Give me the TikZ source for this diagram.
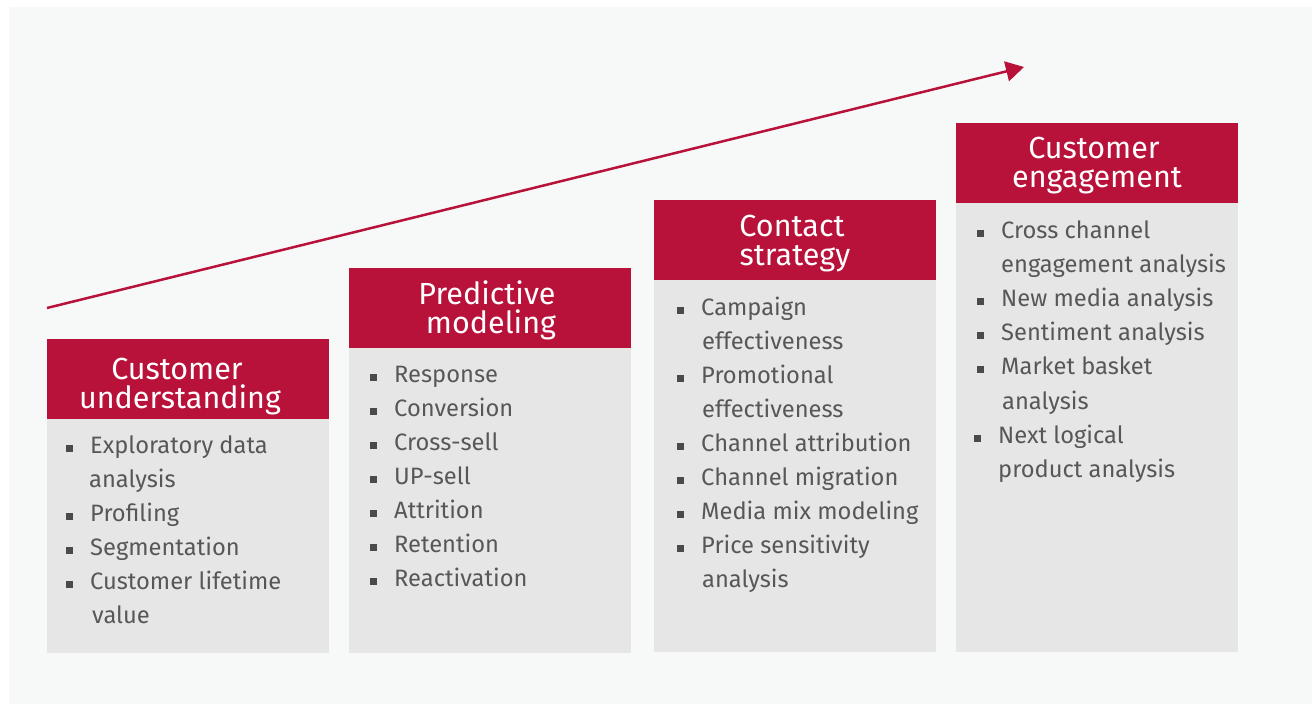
\documentclass[tikz,border=0pt]{standalone}
\usepackage{fontspec}
\setmainfont{Fira Sans}
\usetikzlibrary{arrows.meta}
\definecolor{brandred}{HTML}{B8123A}
\definecolor{bodygray}{HTML}{E5E6E5}
\definecolor{pagegray}{HTML}{F7F8F8}
\definecolor{textgray}{HTML}{575757}
\definecolor{bulletgray}{HTML}{4A4A4A}
\newcommand{\bulletmark}{\llap{\textcolor{bulletgray}{\rule[1pt]{7pt}{7pt}}\hspace{17pt}}}
\tikzset{
  header/.style={fill=brandred, minimum width=282pt, minimum height=80pt, inner sep=0pt,
    anchor=north west},
  title/.style={anchor=base, inner sep=0pt, text=white, font=\fontsize{30.5}{30}\selectfont},
  panel/.style={fill=bodygray, minimum width=282pt, inner sep=0pt, anchor=north west},
  item/.style={anchor=base west, inner sep=0pt, text=textgray, font=\fontsize{23.7}{26}\selectfont},
  trend/.style={draw=brandred, line width=2.5pt, -{Triangle[length=18pt,width=20pt]}},
}
\begin{document}
\begin{tikzpicture}[x=1pt, y=-1pt]
  \useasboundingbox (0,0) rectangle (1312,704);
  \fill[white] (0,0) rectangle (1312,704);
  \fill[pagegray] (9,7) rectangle (1312,704);

  % rising trend arrow
  \coordinate (trendStart) at (47,308);
  \coordinate (trendEnd) at (1024,67);
  \draw[trend] (trendStart) -- (trendEnd);

  % step 1
  \node[panel, minimum height=234pt] (p1) at (47,419) {};
  \node[header] (h1) at (47,339) {};
  \node[title] (t1a) at (177,379) {Customer};
  \node[title] (t1b) at (180,408) {understanding};
  \node[item] (a1) at (90,453) {\bulletmark Exploratory data};
  \node[item] (a1b) at (89,487) {analysis};
  \node[item] (a2) at (90,521) {\bulletmark Profiling};
  \node[item] (a3) at (90,555) {\bulletmark Segmentation};
  \node[item] (a4) at (90,589) {\bulletmark Customer lifetime};
  \node[item] (a4b) at (92,623) {value};

  % step 2
  \node[panel, minimum height=305pt] (p2) at (349,348) {};
  \node[header] (h2) at (349,268) {};
  \node[title] (t2a) at (487,304) {Predictive};
  \node[title] (t2b) at (491,333) {modeling};
  \node[item] (b1) at (394,382) {\bulletmark Response};
  \node[item] (b2) at (394,416) {\bulletmark Conversion};
  \node[item] (b3) at (394,450) {\bulletmark Cross-sell};
  \node[item] (b4) at (394,484) {\bulletmark UP-sell};
  \node[item] (b5) at (394,518) {\bulletmark Attrition};
  \node[item] (b6) at (394,552) {\bulletmark Retention};
  \node[item] (b7) at (394,586) {\bulletmark Reactivation};

  % step 3
  \node[panel, minimum height=372pt] (p3) at (654,280) {};
  \node[header] (h3) at (654,200) {};
  \node[title] (t3a) at (792,236) {Contact};
  \node[title] (t3b) at (795,265) {strategy};
  \node[item] (c1) at (701,315) {\bulletmark Campaign};
  \node[item] (c1b) at (702,349) {effectiveness};
  \node[item] (c2) at (701,383) {\bulletmark Promotional};
  \node[item] (c2b) at (702,417) {effectiveness};
  \node[item] (c3) at (701,451) {\bulletmark Channel attribution};
  \node[item] (c4) at (701,485) {\bulletmark Channel migration};
  \node[item] (c5) at (701,519) {\bulletmark Media mix modeling};
  \node[item] (c6) at (701,553) {\bulletmark Price sensitivity};
  \node[item] (c6b) at (702,587) {analysis};

  % step 4
  \node[panel, minimum height=449pt] (p4) at (956,203) {};
  \node[header] (h4) at (956,123) {};
  \node[title] (t4a) at (1094,158) {Customer};
  \node[title] (t4b) at (1097,187) {engagement};
  \node[item] (d1) at (1001,238) {\bulletmark Cross channel};
  \node[item] (d1b) at (1001,272) {engagement analysis};
  \node[item] (d2) at (1001,306) {\bulletmark New media analysis};
  \node[item] (d3) at (1001,340) {\bulletmark Sentiment analysis};
  \node[item] (d4) at (1001,374) {\bulletmark Market basket};
  \node[item] (d4b) at (1002,409) {analysis};
  \node[item] (d5) at (998,443) {\bulletmark Next logical};
  \node[item] (d5b) at (998,477) {product analysis};
\end{tikzpicture}
\end{document}
